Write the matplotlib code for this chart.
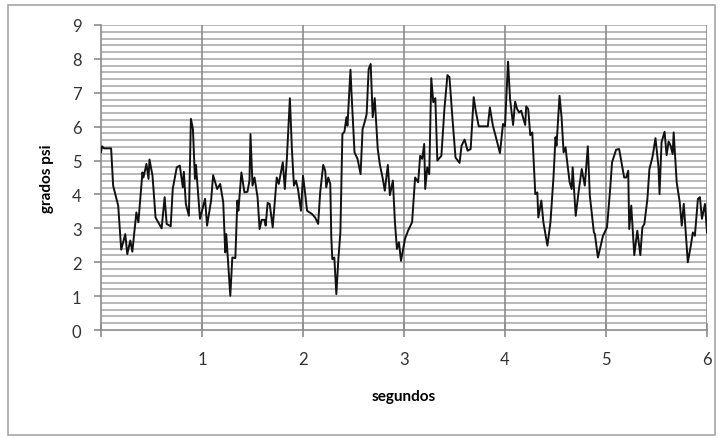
import numpy as np
import matplotlib
matplotlib.use("Agg")
import matplotlib.pyplot as plt
from matplotlib.patches import Rectangle

plt.rcParams['font.family'] = ['Lato', 'DejaVu Sans']

# time (s) and value (grados psi)
t = [0.00, 0.01, 0.03, 0.10, 0.12, 0.17, 0.20, 0.24, 0.26, 0.29, 0.31, 0.35, 0.37,
     0.41, 0.42, 0.45, 0.47, 0.48, 0.51, 0.54, 0.60, 0.63, 0.65, 0.69, 0.71, 0.75,
     0.78, 0.81, 0.82, 0.84, 0.87, 0.89, 0.91, 0.93, 0.94, 0.98, 1.03, 1.05, 1.09,
     1.11, 1.15, 1.18, 1.21, 1.23, 1.24, 1.28, 1.30, 1.33, 1.35, 1.36, 1.39, 1.42,
     1.45, 1.47, 1.48, 1.50, 1.52, 1.55, 1.57, 1.59, 1.62, 1.63, 1.65, 1.67, 1.70,
     1.74, 1.76, 1.80, 1.82, 1.84, 1.87, 1.89, 1.91, 1.93, 1.95, 1.98, 2.00, 2.02,
     2.04, 2.09, 2.12, 2.15, 2.17, 2.20, 2.22, 2.23, 2.25, 2.27, 2.28, 2.29, 2.31,
     2.33, 2.35, 2.37, 2.39, 2.41, 2.43, 2.44, 2.47, 2.48, 2.51, 2.54, 2.57, 2.59,
     2.61, 2.63, 2.65, 2.67, 2.69, 2.71, 2.74, 2.76, 2.79, 2.81, 2.84, 2.86, 2.89,
     2.91, 2.93, 2.95, 2.97, 3.01, 3.04, 3.08, 3.11, 3.14, 3.16, 3.18, 3.20, 3.21,
     3.23, 3.25, 3.27, 3.29, 3.31, 3.33, 3.37, 3.40, 3.43, 3.45, 3.48, 3.51, 3.55,
     3.57, 3.60, 3.63, 3.66, 3.69, 3.71, 3.74, 3.83, 3.85, 3.88, 3.91, 3.95, 3.98,
     4.00, 4.03, 4.05, 4.08, 4.10, 4.12, 4.14, 4.16, 4.20, 4.21, 4.23, 4.25, 4.27,
     4.30, 4.32, 4.33, 4.36, 4.38, 4.42, 4.45, 4.48, 4.50, 4.51, 4.54, 4.56, 4.58,
     4.60, 4.61, 4.64, 4.66, 4.67, 4.70, 4.73, 4.76, 4.79, 4.82, 4.84, 4.88, 4.89,
     4.92, 4.94, 4.97, 5.01, 5.04, 5.06, 5.10, 5.13, 5.15, 5.18, 5.20, 5.22, 5.23,
     5.25, 5.28, 5.31, 5.34, 5.36, 5.38, 5.41, 5.43, 5.46, 5.49, 5.52, 5.53, 5.55,
     5.58, 5.60, 5.62, 5.64, 5.66, 5.67, 5.70, 5.73, 5.75, 5.77, 5.81, 5.84, 5.86,
     5.88, 5.91, 5.93, 5.95, 5.98, 6.00]
psi = [5.25, 5.42, 5.36, 5.36, 4.26, 3.67, 2.37, 2.83, 2.24, 2.64, 2.31, 3.47, 3.18,
       4.65, 4.50, 4.90, 4.46, 5.03, 4.55, 3.32, 3.00, 3.92, 3.13, 3.06, 4.16, 4.80,
       4.85, 4.21, 4.67, 3.72, 3.37, 6.23, 5.93, 4.46, 4.87, 3.28, 3.87, 3.08, 3.82,
       4.57, 4.16, 4.31, 3.77, 2.29, 2.83, 1.01, 2.14, 2.12, 3.82, 3.52, 4.65, 4.06,
       4.08, 4.41, 5.78, 4.26, 4.50, 3.92, 2.98, 3.25, 3.25, 3.08, 3.75, 3.72, 3.03,
       4.50, 4.31, 4.95, 4.16, 5.05, 6.84, 5.34, 4.26, 4.41, 4.16, 3.52, 4.55, 4.06,
       3.52, 3.42, 3.32, 3.13, 4.06, 4.87, 4.70, 4.21, 4.50, 4.31, 2.74, 2.09, 2.14,
       1.06, 2.09, 2.88, 5.78, 5.85, 6.28, 6.03, 7.68, 7.01, 5.24, 5.05, 4.60, 5.93,
       6.13, 6.37, 7.70, 7.85, 6.28, 6.84, 5.34, 4.90, 4.46, 4.11, 4.87, 3.98, 4.41,
       3.18, 2.39, 2.59, 2.04, 2.69, 2.93, 3.18, 4.50, 4.36, 5.14, 5.05, 5.49, 4.16,
       4.80, 4.60, 7.43, 6.72, 6.84, 5.00, 5.14, 6.52, 7.52, 7.46, 6.23, 5.09, 4.93,
       5.44, 5.62, 5.29, 5.34, 6.87, 6.47, 6.01, 6.01, 6.57, 6.03, 5.69, 5.22, 6.08,
       6.01, 7.92, 6.82, 6.05, 6.74, 6.52, 6.42, 6.47, 6.05, 6.60, 6.52, 5.75, 5.83,
       4.01, 4.06, 3.32, 3.82, 3.18, 2.49, 3.18, 4.50, 5.69, 5.44, 6.91, 6.28, 5.24,
       5.39, 5.10, 4.36, 4.16, 4.80, 3.37, 4.11, 4.75, 4.26, 5.42, 3.96, 2.88, 2.83,
       2.14, 2.39, 2.78, 3.03, 4.11, 4.95, 5.32, 5.34, 5.00, 4.50, 4.50, 4.70, 2.98,
       3.67, 2.21, 2.93, 2.21, 3.03, 3.13, 3.87, 4.75, 5.10, 5.66, 4.80, 4.01, 5.54,
       5.85, 5.16, 5.56, 5.44, 5.19, 5.83, 4.36, 3.77, 3.08, 3.72, 2.00, 2.49, 2.88,
       2.78, 3.87, 3.92, 3.28, 3.72, 2.88]

x_ticks = [0, 1, 2, 3, 4, 5, 6]
x_labels = ["", "1", "2", "3", "4", "5", "6"]
y_ticks = [0, 1, 2, 3, 4, 5, 6, 7, 8, 9]

fig = plt.figure(figsize=(7.19, 4.39), dpi=100)
ax = fig.add_axes([0.1405, 0.246, 0.8428, 0.6948])

# minor horizontal grid every 0.2
for g in np.arange(0.2, 9.01, 0.2):
    ax.axhline(g, color='#b8b8b8', lw=1.4, zorder=1)
for g in range(1, 7):
    ax.axvline(g, color='#8c8c8c', lw=1.2, zorder=1)

ax.plot(t, psi, color='#111111', lw=1.4, zorder=3)

ax.set_xlim(0, 6)
ax.set_ylim(0, 9)
ax.set_xticks(x_ticks)
ax.set_xticklabels(x_labels)
ax.set_yticks(y_ticks)

for s in ['top', 'right']:
    ax.spines[s].set_visible(False)
for s in ['left', 'bottom']:
    ax.spines[s].set_color('#8c8c8c')
    ax.spines[s].set_linewidth(1.2)

ax.tick_params(axis='x', direction='inout', length=10, width=1.2, color='#8c8c8c',
               pad=10, labelsize=12, labelcolor='#333333')
ax.tick_params(axis='y', direction='out', length=5, width=1.2, color='#8c8c8c',
               pad=9, labelsize=12, labelcolor='#333333')

ax.set_xlabel('segundos', fontsize=11, fontweight='bold')
ax.set_ylabel('grados psi', fontsize=11, fontweight='bold')
ax.xaxis.set_label_coords(0.5, -0.195)
ax.yaxis.set_label_coords(-0.078, 0.5)

# outer chart frame
fig.patches.append(Rectangle((8 / 719, 3 / 439), 707 / 719, 430 / 439,
                             transform=fig.transFigure, fill=False,
                             edgecolor='#a6a6a6', lw=1.2))

fig.savefig('out.png', dpi=100)
